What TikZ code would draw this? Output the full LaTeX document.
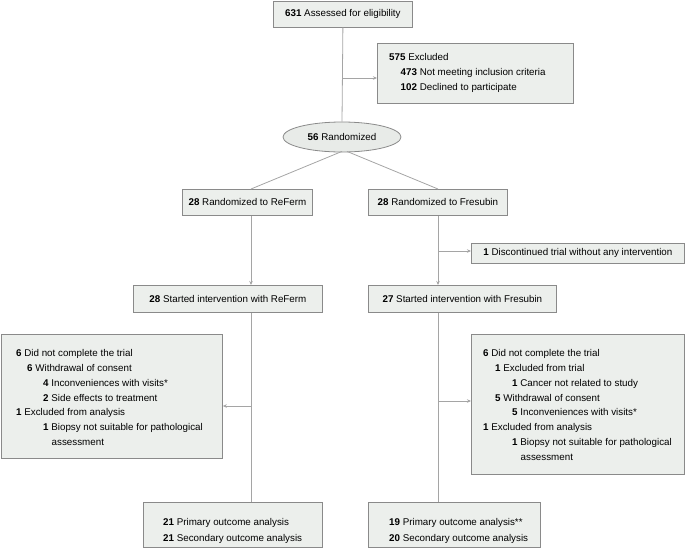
\documentclass[tikz,border=0pt]{standalone}
\usepackage{fontspec}
\setmainfont{Liberation Sans}
\usetikzlibrary{shapes.geometric,arrows.meta,calc}
\definecolor{boxfill}{RGB}{236,239,236}
\definecolor{ellfill}{RGB}{232,235,232}
\definecolor{boxline}{RGB}{138,138,138}
\definecolor{connc}{RGB}{165,165,165}
\tikzset{
  box/.style={draw=boxline, fill=boxfill, line width=0.8pt, rectangle, inner sep=0pt, anchor=north west},
  txt/.style={font=\fontsize{9.8}{14.8}\selectfont, inner sep=0pt, text=black},
  lst/.style={txt, align=left, anchor=north west},
  conn/.style={draw=connc, line width=0.8pt},
  arr/.style={conn, -{Stealth[length=4pt,width=3.5pt]}},
}
\begin{document}
\begin{tikzpicture}[x=1pt,y=-1pt]
\useasboundingbox (0,0) rectangle (685,547);
% boxes
\node[box, txt, minimum width=139pt, minimum height=26pt] (assess) at (273,0.5) {\textbf{631} Assessed for eligibility};
\node[box, minimum width=196pt, minimum height=60pt] (excl) at (377,43) {};
\node[lst] (exclT) at (389,53.3) {\textbf{575} Excluded\\\hspace*{11.5pt}\textbf{473} Not meeting inclusion criteria\\\hspace*{11.5pt}\textbf{102} Declined to participate};
\node[ellipse, draw=boxline, fill=ellfill, line width=0.8pt, inner sep=0pt, minimum width=118pt, minimum height=30pt, txt] (ell) at (342,137) {\textbf{56} Randomized};
\node[box, txt, minimum width=130pt, minimum height=26pt] (rRef) at (182,189) {\textbf{28} Randomized to ReFerm};
\node[box, txt, minimum width=139pt, minimum height=26pt] (rFre) at (368,189) {\textbf{28} Randomized to Fresubin};
\node[box, txt, minimum width=213pt, minimum height=20pt] (disc) at (471,243) {\textbf{1} Discontinued trial without any intervention};
\node[box, txt, minimum width=189pt, minimum height=27pt] (sRef) at (133,285) {\textbf{28} Started intervention with ReFerm};
\node[box, txt, minimum width=188pt, minimum height=27pt] (sFre) at (368,285) {\textbf{27} Started intervention with Fresubin};
\node[box, minimum width=221pt, minimum height=124pt] (detL) at (1,334) {};
\node[lst] (detLT) at (16,349.3) {\textbf{6} Did not complete the trial\\
\hspace*{11pt}\textbf{6} Withdrawal of consent\\
\hspace*{27pt}\textbf{4} Inconveniences with visits*\\
\hspace*{27pt}\textbf{2} Side effects to treatment\\
\textbf{1} Excluded from analysis\\
\hspace*{27pt}\textbf{1} Biopsy not suitable for pathological\\
\hspace*{35.5pt}assessment};
\node[box, minimum width=213pt, minimum height=140pt] (detR) at (471,334) {};
\node[lst] (detRT) at (483,349.3) {\textbf{6} Did not complete the trial\\
\hspace*{12pt}\textbf{1} Excluded from trial\\
\hspace*{29pt}\textbf{1} Cancer not related to study\\
\hspace*{12pt}\textbf{5} Withdrawal of consent\\
\hspace*{29pt}\textbf{5} Inconveniences with visits*\\
\textbf{1} Excluded from analysis\\
\hspace*{29pt}\textbf{1} Biopsy not suitable for pathological\\
\hspace*{37.5pt}assessment};
\node[box, minimum width=179pt, minimum height=44.5pt] (outL) at (143,502) {};
\node[lst, font=\fontsize{9.8}{16}\selectfont] (outLT) at (163,518.3) {\textbf{21} Primary outcome analysis\\\textbf{21} Secondary outcome analysis};
\node[box, minimum width=172pt, minimum height=44.5pt] (outR) at (368,502) {};
\node[lst, font=\fontsize{9.8}{16}\selectfont] (outRT) at (389,518.3) {\textbf{19} Primary outcome analysis**\\\textbf{20} Secondary outcome analysis};
% connectors
\coordinate (cL) at (251,0);
\coordinate (cR) at (438,0);
\coordinate (jE) at (343,78);
\coordinate (jD) at (438,251);
\coordinate (jL) at (251,406);
\coordinate (jR) at (438,401);
\draw[conn] (assess.south) -- (ell.north);
\draw[arr] (jE) -- (jE -| excl.west);
\draw[conn] ($(ell.south)+(0,-1)$) -- (rRef.north -| cL);
\draw[conn] ($(ell.south)+(5,-1)$) -- (rFre.north -| cR);
\draw[arr] (rRef.south -| cL) -- (sRef.north -| cL);
\draw[arr] (rFre.south -| cR) -- (sFre.north -| cR);
\draw[arr] (jD) -- (jD -| disc.west);
\draw[conn] (sRef.south -| cL) -- (outL.north -| cL);
\draw[conn] (sFre.south -| cR) -- (outR.north -| cR);
\draw[arr] (jL) -- (jL -| detL.east);
\draw[arr] (jR) -- (jR -| detR.west);
\end{tikzpicture}
\end{document}
